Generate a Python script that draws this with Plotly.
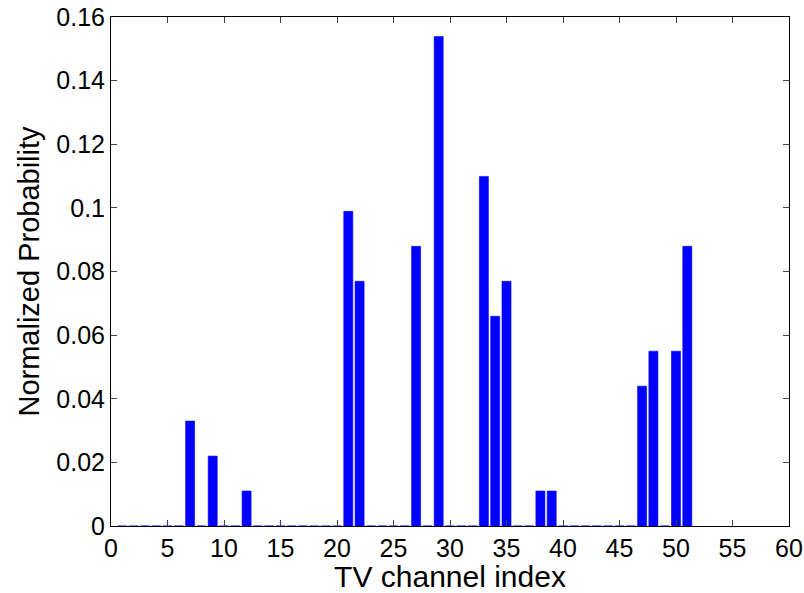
import plotly.graph_objects as go

# Channel occupancy counts (out of 91 observations), channels 1..51
channels = list(range(1, 52))
counts = {7: 3, 9: 2, 12: 1, 21: 9, 22: 7, 27: 8, 29: 14, 33: 10, 34: 6,
          35: 7, 38: 1, 39: 1, 47: 4, 48: 5, 50: 5, 51: 8}
total = 91
probability = [counts.get(c, 0) / total for c in channels]

x_ticks = list(range(0, 61, 5))
y_ticks = [0, 0.02, 0.04, 0.06, 0.08, 0.1, 0.12, 0.14, 0.16]
y_tick_text = ["0", "0.02", "0.04", "0.06", "0.08", "0.1", "0.12", "0.14", "0.16"]

fig = go.Figure(
    go.Bar(
        x=channels,
        y=probability,
        width=0.8,
        marker=dict(color="#0000ff", line=dict(color="#0000ff", width=0.6)),
    )
)

font_family = "Liberation Sans, Arial, sans-serif"
axis_common = dict(
    showline=True,
    linecolor="black",
    linewidth=1,
    mirror="ticks",
    ticks="inside",
    ticklen=6,
    tickcolor="#444",
    showgrid=False,
    zeroline=False,
    automargin=False,
    tickfont=dict(family=font_family, size=25, color="black"),
)

fig.update_layout(
    width=804,
    height=593,
    margin=dict(l=111, r=15, t=17, b=67),
    paper_bgcolor="white",
    plot_bgcolor="white",
    showlegend=False,
    xaxis=dict(
        range=[0, 60],
        tickvals=x_ticks,
        title=dict(text="TV channel index", font=dict(family=font_family, size=30, color="black"), standoff=2),
        **axis_common,
    ),
    yaxis=dict(
        range=[0, 0.16],
        tickvals=y_ticks,
        ticktext=y_tick_text,
        title=dict(text="Normalized Probability", font=dict(family=font_family, size=29, color="black"), standoff=8),
        **axis_common,
    ),
)

fig.write_html("out.html")
